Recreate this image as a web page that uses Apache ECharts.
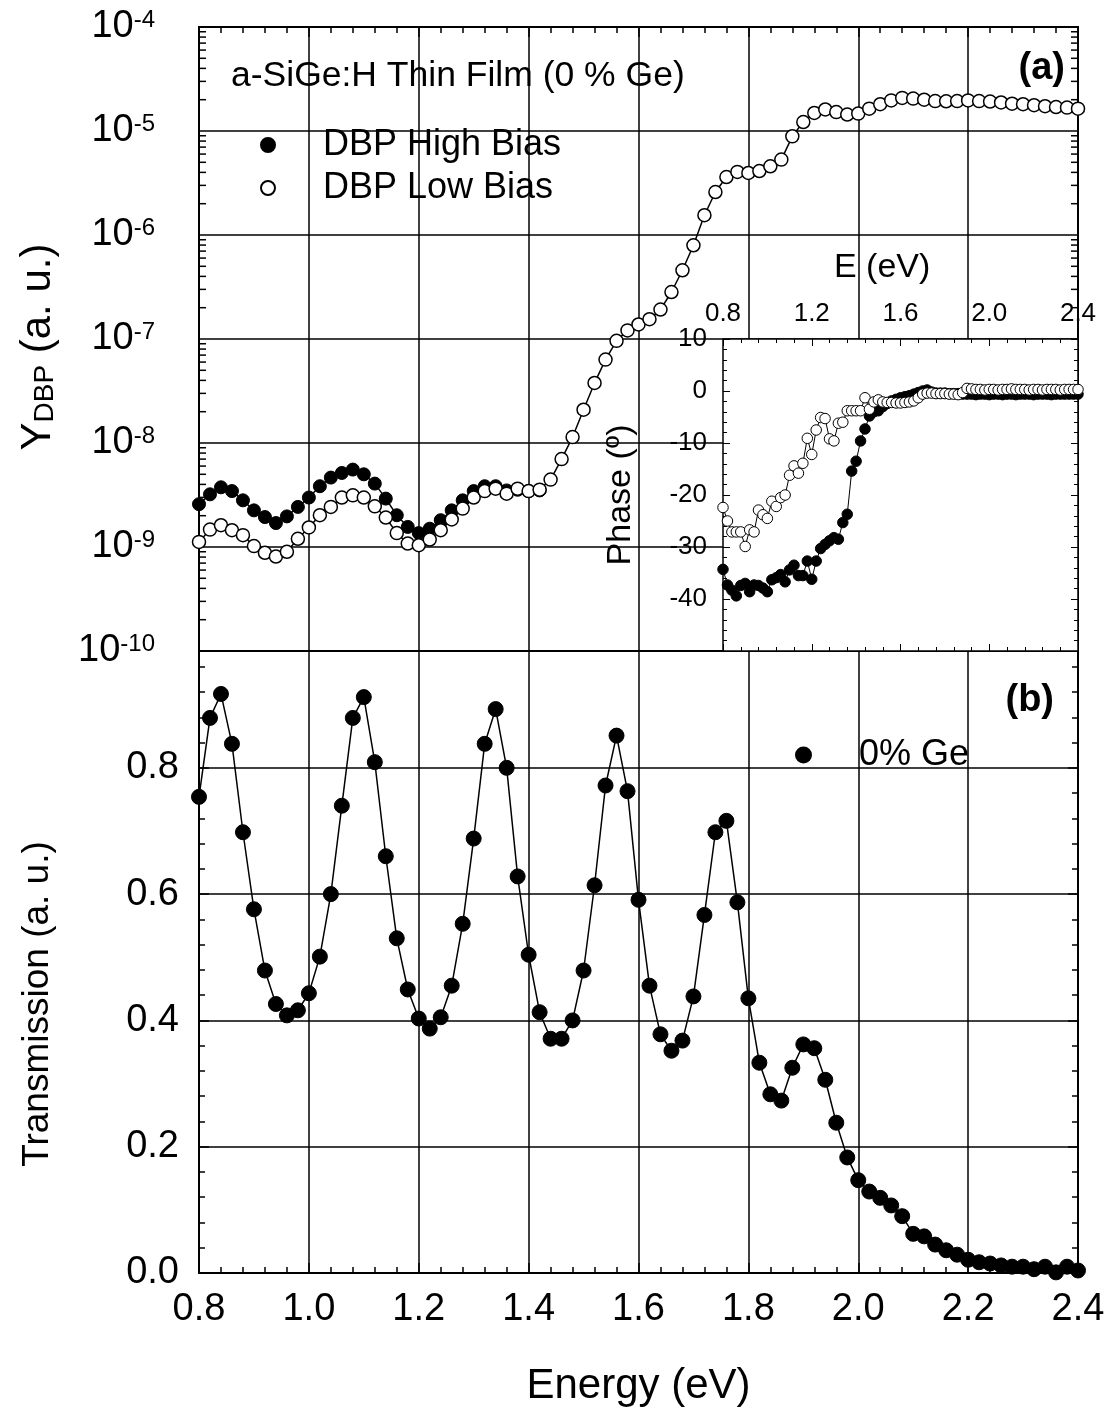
<!DOCTYPE html>
<html>
<head>
<meta charset="utf-8">
<script src="https://cdn.jsdelivr.net/npm/echarts@6/dist/echarts.min.js"></script>
<style>
  html, body { margin: 0; padding: 0; background: #fff; }
  #chart { width: 1114px; height: 1412px; }
</style>
</head>
<body>
<div id="chart"></div>
<script>
// photon energy (eV), 0.02 eV steps
const energy = [
  0.80, 0.82, 0.84, 0.86, 0.88, 0.90, 0.92, 0.94, 0.96, 0.98,
  1.00, 1.02, 1.04, 1.06, 1.08, 1.10, 1.12, 1.14, 1.16, 1.18,
  1.20, 1.22, 1.24, 1.26, 1.28, 1.30, 1.32, 1.34, 1.36, 1.38,
  1.40, 1.42, 1.44, 1.46, 1.48, 1.50, 1.52, 1.54, 1.56, 1.58,
  1.60, 1.62, 1.64, 1.66, 1.68, 1.70, 1.72, 1.74, 1.76, 1.78,
  1.80, 1.82, 1.84, 1.86, 1.88, 1.90, 1.92, 1.94, 1.96, 1.98,
  2.00, 2.02, 2.04, 2.06, 2.08, 2.10, 2.12, 2.14, 2.16, 2.18,
  2.20, 2.22, 2.24, 2.26, 2.28, 2.30, 2.32, 2.34, 2.36, 2.38,
  2.40
];

// (a) Y_DBP, high bias (0.80 - 1.42 eV, hidden under low bias above that)
const dbpHigh = [
  2.58e-9, 3.21e-9, 3.75e-9, 3.45e-9, 2.81e-9, 2.25e-9, 1.94e-9, 1.70e-9, 1.97e-9, 2.43e-9,
  2.99e-9, 3.84e-9, 4.65e-9, 5.15e-9, 5.55e-9, 5.00e-9, 4.07e-9, 2.92e-9, 2.02e-9, 1.56e-9,
  1.36e-9, 1.50e-9, 1.81e-9, 2.25e-9, 2.81e-9, 3.45e-9, 3.84e-9, 3.84e-9, 3.50e-9, 3.55e-9,
  3.45e-9, 3.50e-9
];

// (a) Y_DBP, low bias
const dbpLow = [
  1.12e-9, 1.47e-9, 1.62e-9, 1.45e-9, 1.30e-9, 1.02e-9, 8.8e-10, 8.1e-10, 9.0e-10, 1.20e-9,
  1.54e-9, 2.02e-9, 2.43e-9, 2.99e-9, 3.14e-9, 2.99e-9, 2.46e-9, 1.92e-9, 1.36e-9, 1.08e-9,
  1.04e-9, 1.18e-9, 1.45e-9, 1.84e-9, 2.34e-9, 2.99e-9, 3.45e-9, 3.64e-9, 3.26e-9, 3.64e-9,
  3.45e-9, 3.56e-9, 4.45e-9, 7.0e-9, 1.14e-8, 2.09e-8, 3.78e-8, 6.34e-8, 9.6e-8, 1.21e-7,
  1.38e-7, 1.55e-7, 1.92e-7, 2.83e-7, 4.58e-7, 7.96e-7, 1.55e-6, 2.59e-6, 3.61e-6, 4.04e-6,
  3.95e-6, 4.12e-6, 4.58e-6, 5.31e-6, 8.89e-6, 1.22e-5, 1.49e-5, 1.61e-5, 1.52e-5, 1.44e-5,
  1.47e-5, 1.64e-5, 1.81e-5, 1.97e-5, 2.08e-5, 2.05e-5, 2.00e-5, 1.94e-5, 1.93e-5, 1.94e-5,
  1.97e-5, 1.94e-5, 1.92e-5, 1.88e-5, 1.83e-5, 1.81e-5, 1.77e-5, 1.73e-5, 1.70e-5, 1.68e-5,
  1.64e-5
];

// inset: phase (deg), high bias
const phaseHigh = [
  -34.3, -37.3, -38.3, -39.4, -37.4, -37.0, -38.6, -37.3, -37.4, -37.9,
  -38.6, -36.3, -35.9, -35.3, -36.7, -34.4, -33.5, -35.5, -35.5, -32.7,
  -36.2, -32.7, -30.3, -29.5, -28.8, -28.2, -28.5, -25.3, -23.7, -15.4,
  -13.5, -9.6, -7.3, -4.8, -4.0, -3.8, -3.0, -2.4, -1.9, -1.6,
  -1.3, -1.1, -0.9, -0.6, -0.3, 0.0, 0.2, -0.2, -0.4, -0.4,
  -0.4, -0.5, -0.5, -0.5, -0.6, -0.6, -0.6, -0.7, -0.6, -0.6,
  -0.7, -0.6, -0.6, -0.7, -0.6, -0.6, -0.7, -0.6, -0.6, -0.6,
  -0.7, -0.6, -0.6, -0.6, -0.7, -0.6, -0.6, -0.6, -0.6, -0.6,
  -0.6
];

// inset: phase (deg), low bias
const phaseLow = [
  -22.4, -25.0, -27.1, -27.1, -27.1, -29.9, -26.7, -27.1, -22.9, -23.8,
  -24.5, -21.2, -22.2, -20.5, -20.0, -16.2, -14.4, -15.8, -13.9, -9.1,
  -12.2, -7.5, -5.1, -5.3, -9.2, -9.6, -6.2, -6.0, -3.8, -3.8,
  -3.8, -3.8, -1.3, -3.5, -2.1, -1.7, -2.1, -2.2, -2.2, -2.3,
  -2.3, -2.2, -2.1, -1.9, -1.3, -0.6, -0.4, -0.4, -0.5, -0.5,
  -0.5, -0.6, -0.6, -0.7, -0.3, 0.5, 0.4, 0.3, 0.3, 0.2,
  0.3, 0.3, 0.2, 0.3, 0.3, 0.4, 0.3, 0.3, 0.3, 0.2,
  0.3, 0.3, 0.2, 0.3, 0.3, 0.3, 0.2, 0.3, 0.3, 0.3,
  0.3
];

// (b) transmission (a. u.)
const transmission = [
  0.754, 0.879, 0.917, 0.838, 0.698, 0.576, 0.479, 0.426, 0.408, 0.416,
  0.443, 0.501, 0.600, 0.740, 0.879, 0.912, 0.809, 0.660, 0.530, 0.449,
  0.403, 0.387, 0.405, 0.455, 0.553, 0.688, 0.838, 0.893, 0.800, 0.628,
  0.504, 0.413, 0.371, 0.371, 0.400, 0.479, 0.614, 0.772, 0.851, 0.763,
  0.591, 0.455, 0.378, 0.352, 0.368, 0.438, 0.567, 0.698, 0.716, 0.587,
  0.435, 0.333, 0.283, 0.273, 0.325, 0.362, 0.356, 0.306, 0.238, 0.183,
  0.147, 0.129, 0.119, 0.107, 0.090, 0.062, 0.058, 0.045, 0.036, 0.029,
  0.021, 0.017, 0.015, 0.012, 0.010, 0.010, 0.006, 0.010, 0.001, 0.010,
  0.004
];

const FONT = 'Liberation Sans';
const BLACK = '#000';

function pairs(xs, ys) {
  return ys.map((y, i) => [xs[i], y]);
}

// 2..9 x 10^n positions for the minor ticks of the log axis
const logMinor = [];
for (let e = -10; e < -4; e++) {
  for (let k = 2; k <= 9; k++) logMinor.push([0.8, k * Math.pow(10, e)]);
}

const gridLine = { show: true, lineStyle: { color: BLACK, width: 1.5 } };
const noLine = { show: false, onZero: false };

const chart = echarts.init(document.getElementById('chart'));

chart.setOption({
  animation: false,
  backgroundColor: '#fff',
  textStyle: { fontFamily: FONT, color: BLACK },
  grid: [
    { left: 199, top: 27, width: 879, height: 624, show: true, borderColor: BLACK, borderWidth: 2, backgroundColor: 'transparent', containLabel: false, outerBoundsMode: 'none' },
    { left: 199, top: 651, width: 879, height: 622, show: true, borderColor: BLACK, borderWidth: 2, backgroundColor: 'transparent', containLabel: false, outerBoundsMode: 'none' },
    { left: 723, top: 339, width: 355, height: 312, show: false, containLabel: false, outerBoundsMode: 'none' }
  ],
  legend: [
    {
      data: ['DBP High Bias', 'DBP Low Bias'],
      orient: 'vertical', left: 255, top: 122, itemGap: 7,
      icon: 'circle', itemWidth: 14, itemHeight: 14, selectedMode: false,
      textStyle: { fontFamily: FONT, fontSize: 36, lineHeight: 36, color: BLACK, padding: [0, 0, 0, 43] }
    },
    {
      data: ['0% Ge'],
      left: 790, top: 732, icon: 'circle', itemWidth: 15, itemHeight: 15, selectedMode: false,
      textStyle: { fontFamily: FONT, fontSize: 36, lineHeight: 36, color: BLACK, padding: [0, 0, 0, 43] }
    }
  ],
  xAxis: [
    {
      gridIndex: 0, type: 'value', position: 'top', min: 0.8, max: 2.4, interval: 0.2,
      axisLine: noLine, axisLabel: { show: false },
      axisTick: { show: true, inside: true, length: 10, lineStyle: { color: BLACK, width: 1.5 } },
      minorTick: { show: true, splitNumber: 5, length: 6, lineStyle: { color: BLACK, width: 1.5 } },
      splitLine: gridLine
    },
    {
      gridIndex: 1, type: 'value', position: 'bottom', min: 0.8, max: 2.4, interval: 0.2,
      axisLine: noLine,
      axisLabel: { fontFamily: FONT, fontSize: 38, color: BLACK, margin: 18, formatter: v => v.toFixed(1) },
      axisTick: { show: true, inside: true, length: 10, lineStyle: { color: BLACK, width: 1.5 } },
      minorTick: { show: true, splitNumber: 5, length: 6, lineStyle: { color: BLACK, width: 1.5 } },
      splitLine: gridLine,
      name: 'Energy (eV)', nameLocation: 'middle', nameGap: 92,
      nameTextStyle: { fontFamily: FONT, fontSize: 42, color: BLACK }
    },
    {
      gridIndex: 2, type: 'value', position: 'top', min: 0.8, max: 2.4, interval: 0.4, z: 6,
      axisLine: noLine,
      axisLabel: { fontFamily: FONT, fontSize: 26, color: BLACK, margin: 12, formatter: v => v.toFixed(1) },
      axisTick: { show: true, inside: true, length: 7, lineStyle: { color: BLACK, width: 1 } },
      minorTick: { show: true, splitNumber: 5, length: 4, lineStyle: { color: BLACK, width: 1 } },
      splitLine: { show: false }
    },
    {
      gridIndex: 2, type: 'value', position: 'bottom', min: 0.8, max: 2.4, interval: 0.4, z: 6,
      axisLine: noLine, axisLabel: { show: false },
      axisTick: { show: true, inside: true, length: 7, lineStyle: { color: BLACK, width: 1 } },
      minorTick: { show: true, splitNumber: 5, length: 4, lineStyle: { color: BLACK, width: 1 } },
      splitLine: { show: false }
    }
  ],
  yAxis: [
    {
      gridIndex: 0, type: 'log', logBase: 10, min: 1e-10, max: 1e-4, interval: 1,
      axisLine: noLine, axisTick: { show: false },
      axisLabel: {
        margin: 44, color: BLACK,
        formatter: v => '{b|10}{s|' + Math.round(Math.log10(v)) + '}',
        rich: {
          b: { fontFamily: FONT, fontSize: 38, color: BLACK },
          s: { fontFamily: FONT, fontSize: 24, color: BLACK, verticalAlign: 'top' }
        }
      },
      splitLine: gridLine
    },
    {
      gridIndex: 1, type: 'value', min: 0, max: 0.985, interval: 0.2,
      axisLine: noLine,
      axisLabel: {
        fontFamily: FONT, fontSize: 38, color: BLACK, margin: 20,
        formatter: v => (Math.abs(v * 5 - Math.round(v * 5)) < 1e-6 ? v.toFixed(1) : '')
      },
      axisTick: { show: true, inside: true, length: 10, lineStyle: { color: BLACK, width: 1.5 } },
      minorTick: { show: true, splitNumber: 5, length: 6, lineStyle: { color: BLACK, width: 1.5 } },
      splitLine: gridLine
    },
    {
      gridIndex: 1, type: 'value', position: 'right', min: 0, max: 0.985, interval: 0.2,
      axisLine: noLine, axisLabel: { show: false },
      axisTick: { show: true, inside: true, length: 10, lineStyle: { color: BLACK, width: 1.5 } },
      minorTick: { show: true, splitNumber: 5, length: 6, lineStyle: { color: BLACK, width: 1.5 } },
      splitLine: { show: false }
    },
    {
      gridIndex: 2, type: 'value', min: -50, max: 10, interval: 10, z: 6,
      axisLine: noLine,
      axisLabel: {
        fontFamily: FONT, fontSize: 26, color: BLACK, margin: 16,
        formatter: v => (v <= -50 ? '' : String(v))
      },
      axisTick: { show: true, inside: true, length: 7, lineStyle: { color: BLACK, width: 1 } },
      minorTick: { show: true, splitNumber: 5, length: 4, lineStyle: { color: BLACK, width: 1 } },
      splitLine: { show: false },
      name: 'Phase (º)', nameLocation: 'middle', nameRotate: 90, nameGap: 85,
      nameTextStyle: { fontFamily: FONT, fontSize: 34, color: BLACK }
    },
    {
      gridIndex: 2, type: 'value', position: 'right', min: -50, max: 10, interval: 10, z: 6,
      axisLine: noLine, axisLabel: { show: false },
      axisTick: { show: true, inside: true, length: 7, lineStyle: { color: BLACK, width: 1 } },
      minorTick: { show: true, splitNumber: 5, length: 4, lineStyle: { color: BLACK, width: 1 } },
      splitLine: { show: false }
    }
  ],
  graphic: [
    {
      type: 'text', left: 231, top: 58,
      style: { text: 'a-SiGe:H Thin Film (0 % Ge)', font: '35.5px "Liberation Sans"', fill: BLACK }
    },
    {
      type: 'text', right: 1114 - 1065, top: 50,
      style: { text: '(a)', font: 'bold 38px "Liberation Sans"', fill: BLACK }
    },
    {
      type: 'text', right: 1114 - 1054, top: 682,
      style: { text: '(b)', font: 'bold 38px "Liberation Sans"', fill: BLACK }
    },
    {
      type: 'text', left: 834, top: 251, z: 10,
      style: { text: 'E (eV)', font: '34px "Liberation Sans"', fill: BLACK }
    },
    {
      type: 'text', x: 38, y: 347, rotation: Math.PI / 2,
      style: {
        text: '{y|Y}{s|DBP}{y| (a. u.)}', align: 'center', verticalAlign: 'middle',
        rich: {
          y: { fontFamily: FONT, fontSize: 42, color: BLACK },
          s: { fontFamily: FONT, fontSize: 28, color: BLACK, verticalAlign: 'bottom' }
        }
      }
    },
    {
      type: 'text', x: 38, y: 1004, rotation: Math.PI / 2,
      style: { text: 'Transmission (a. u.)', font: '37px "Liberation Sans"', fill: BLACK, align: 'center', verticalAlign: 'middle' }
    }
  ],
  series: [
    {
      type: 'custom', xAxisIndex: 0, yAxisIndex: 0, data: logMinor, silent: true, z: 3, clip: false,
      renderItem: function (params, api) {
        const l = api.coord([0.8, api.value(1)]);
        const r = api.coord([2.4, api.value(1)]);
        return {
          type: 'group',
          children: [
            { type: 'line', shape: { x1: l[0], y1: l[1], x2: l[0] + 7, y2: l[1] }, style: { stroke: BLACK, lineWidth: 1.5 } },
            { type: 'line', shape: { x1: r[0] - 7, y1: r[1], x2: r[0], y2: r[1] }, style: { stroke: BLACK, lineWidth: 1.5 } }
          ]
        };
      }
    },
    {
      // white panel of the inset, laid over the main grid lines
      type: 'custom', xAxisIndex: 2, yAxisIndex: 3, data: [[0.8, 10]], silent: true, z: 5, clip: false,
      renderItem: function (params, api) {
        const a = api.coord([0.8, 10]);
        const b = api.coord([2.4, -50]);
        return {
          type: 'rect',
          shape: { x: a[0], y: a[1], width: b[0] - a[0], height: b[1] - a[1] },
          style: { fill: '#fff', stroke: BLACK, lineWidth: 1.5 }
        };
      }
    },
    {
      name: 'DBP High Bias', type: 'line', xAxisIndex: 0, yAxisIndex: 0,
      data: pairs(energy, dbpHigh), symbol: 'circle', symbolSize: 13, z: 3,
      itemStyle: { color: BLACK, borderColor: BLACK, borderWidth: 1 },
      lineStyle: { color: BLACK, width: 1.5 }
    },
    {
      name: 'DBP Low Bias', type: 'line', xAxisIndex: 0, yAxisIndex: 0,
      data: pairs(energy, dbpLow), symbol: 'circle', symbolSize: 13, z: 4,
      itemStyle: { color: '#fff', borderColor: BLACK, borderWidth: 1.5 },
      lineStyle: { color: BLACK, width: 1.5 }
    },
    {
      name: '0% Ge', type: 'line', xAxisIndex: 1, yAxisIndex: 1,
      data: pairs(energy, transmission), symbol: 'circle', symbolSize: 15, z: 3,
      itemStyle: { color: BLACK, borderColor: BLACK, borderWidth: 1 },
      lineStyle: { color: BLACK, width: 1.5 }
    },
    {
      name: 'Phase High Bias', type: 'line', xAxisIndex: 2, yAxisIndex: 3,
      data: pairs(energy, phaseHigh), symbol: 'circle', symbolSize: 10.5, z: 7,
      itemStyle: { color: BLACK, borderColor: BLACK, borderWidth: 1 },
      lineStyle: { color: BLACK, width: 1 }
    },
    {
      name: 'Phase Low Bias', type: 'line', xAxisIndex: 2, yAxisIndex: 3,
      data: pairs(energy, phaseLow), symbol: 'circle', symbolSize: 10.5, z: 8,
      itemStyle: { color: '#fff', borderColor: BLACK, borderWidth: 1 },
      lineStyle: { color: BLACK, width: 1 }
    }
  ]
});
</script>
</body>
</html>
